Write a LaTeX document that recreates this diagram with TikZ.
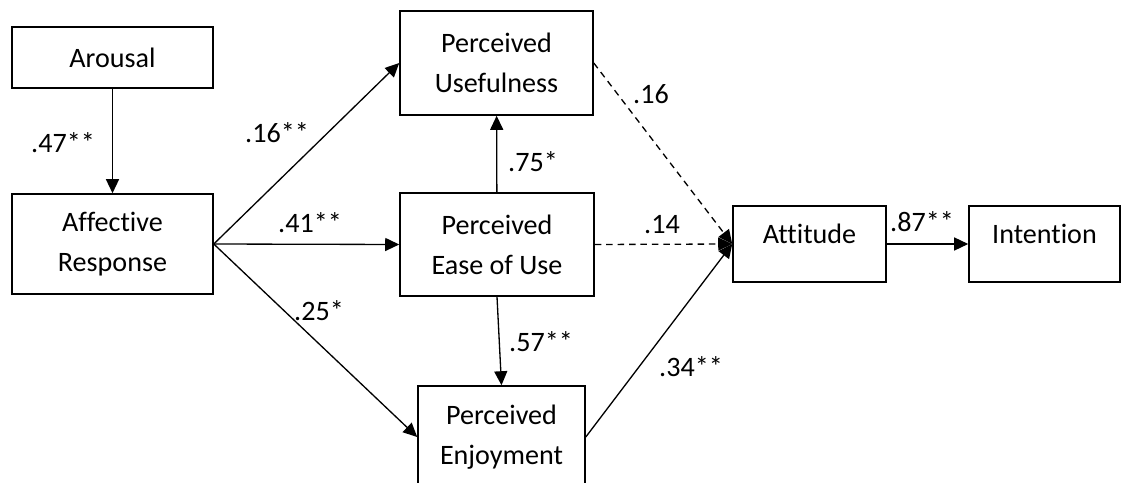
\documentclass[tikz,border=0pt]{standalone}
\usepackage{fontspec}
\setmainfont{Carlito}[Ligatures={NoCommon}]
\usetikzlibrary{arrows.meta}

\begin{document}
\begin{tikzpicture}[x=0.02cm,y=-0.02cm,
    >={Triangle[length=0.28cm,width=0.26cm]},
    font=\fontsize{16}{22.8}\selectfont,
    box/.style={draw,line width=0.9pt,inner sep=0pt,align=center},
    onebox/.style={box,minimum width=3.04cm,minimum height=1.52cm,text height=0.3cm,text depth=0.34cm},
    conn/.style={->,line width=0.75pt},
    dconn/.style={conn,dash pattern=on 3.7pt off 2.8pt},
    coef/.style={inner sep=0pt,text depth=0pt}]
  \useasboundingbox (0,0) rectangle (1122,483);
  % constructs
  \node[box,minimum width=4.02cm,minimum height=1.22cm] (arousal) at (112.5,57.5) {Arousal};
  \node[box,minimum width=4.02cm,minimum height=2cm] (affect) at (112.5,244) {Affective\\Response};
  \node[box,minimum width=3.86cm,minimum height=2.08cm] (useful) at (496.5,63) {Perceived\\Usefulness};
  \node[box,minimum width=3.88cm,minimum height=2.06cm] (ease) at (497,244.5) {Perceived\\Ease of Use};
  \node[box,minimum width=3.34cm,minimum height=2.04cm] (enjoy) at (501.5,437) {Perceived\\Enjoyment};
  \node[onebox,minimum width=3.06cm] (attitude) at (809.5,244) {Attitude};
  \node[onebox,minimum width=3.02cm] (intention) at (1044.5,244) {Intention};
  % paths
  \draw[conn] (arousal) -- (affect);
  \draw[conn] (affect.east) -- (useful.west);
  \draw[conn] (affect.east) -- (ease.west);
  \draw[conn] (affect.east) -- (enjoy.west);
  \draw[conn] (ease) -- (useful);
  \draw[conn] (ease.south) -- (enjoy.north);
  \draw[dconn] (useful.east) -- (attitude.west);
  \draw[dconn] (ease.east) -- (attitude.west);
  \draw[conn] (enjoy.east) -- (attitude.west);
  \draw[conn] (attitude) -- (intention);
  % coefficients
  \node[coef] (c47) at (63,143) {.47**};
  \node[coef] (c16a) at (277,133) {.16**};
  \node[coef] (c41) at (310,223) {.41**};
  \node[coef] (c25) at (319,311) {.25*};
  \node[coef] (c75) at (533,162) {.75*};
  \node[coef] (c16b) at (651,94) {.16};
  \node[coef] (c14) at (662,224) {.14};
  \node[coef] (c57) at (541,342) {.57**};
  \node[coef] (c34) at (691,367) {.34**};
  \node[coef] (c87) at (922,222) {.87**};
\end{tikzpicture}
\end{document}
